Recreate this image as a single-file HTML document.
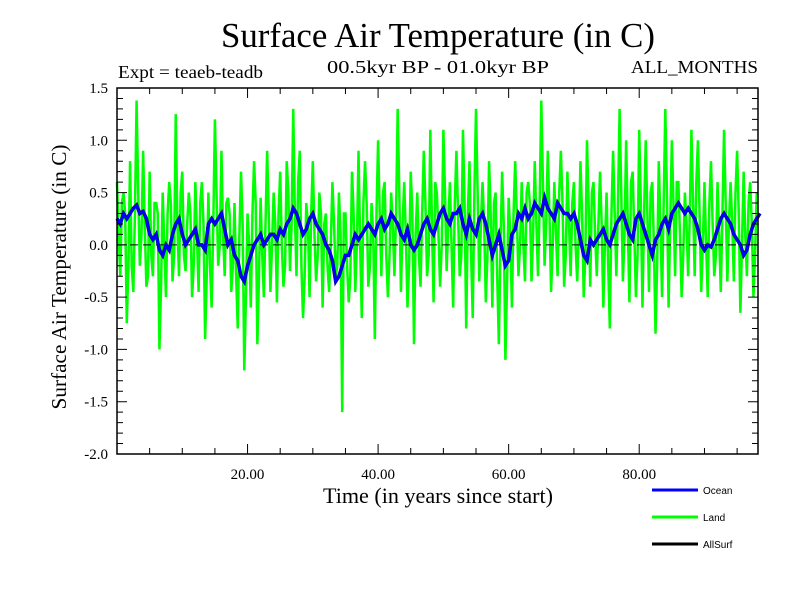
<!DOCTYPE html>
<html><head><meta charset="utf-8"><style>
body{margin:0;background:#fff}
svg text{font-family:"Liberation Serif",serif}
</style></head><body>
<svg id="c" width="800" height="600" xmlns="http://www.w3.org/2000/svg">
<text x="221" y="47" font-size="35" textLength="434" lengthAdjust="spacingAndGlyphs">Surface Air Temperature (in C)</text>
<text x="118" y="78" font-size="18" textLength="145" lengthAdjust="spacingAndGlyphs">Expt = teaeb-teadb</text>
<text x="327" y="73" font-size="18" textLength="222" lengthAdjust="spacingAndGlyphs">00.5kyr BP - 01.0kyr BP</text>
<text x="631" y="73" font-size="18" textLength="127" lengthAdjust="spacingAndGlyphs">ALL_MONTHS</text>
<text transform="translate(66,277) rotate(-90)" font-size="21" text-anchor="middle" textLength="265" lengthAdjust="spacingAndGlyphs">Surface Air Temperature (in C)</text>
<text x="323" y="503" font-size="22" textLength="230" lengthAdjust="spacingAndGlyphs">Time (in years since start)</text>
<g id="plot"></g>
<g id="axes"></g>
<g>
<line x1="652" y1="490" x2="698" y2="490" stroke="#0000ff" stroke-width="3"/>
<text x="703" y="494" style="font-family:'Liberation Sans',sans-serif" font-size="10">Ocean</text>
<line x1="652" y1="517" x2="698" y2="517" stroke="#00ff00" stroke-width="3"/>
<text x="703" y="521" style="font-family:'Liberation Sans',sans-serif" font-size="10">Land</text>
<line x1="652" y1="544" x2="698" y2="544" stroke="#000" stroke-width="3"/>
<text x="703" y="548" style="font-family:'Liberation Sans',sans-serif" font-size="10">AllSurf</text>
</g>
</svg>
<script>
const xTickValues=[20,40,60,80];
const xTickLabels=["20.00","40.00","60.00","80.00"];
const yTickValues=[1.5,1.0,0.5,0.0,-0.5,-1.0,-1.5,-2.0];
const yTickLabels=["1.5","1.0","0.5","0.0","-0.5","-1.0","-1.5","-2.0"];
const landHigh=[0.6,0.5,0.8,1.38,0.9,0.7,0.4,0.5,0.6,1.25,0.7,0.5,0.6,0.6,0.5,1.2,0.9,0.45,0.4,0.7,0.3,0.8,0.45,0.9,0.5,0.7,0.8,1.3,0.9,0.4,0.8,0.5,0.3,0.6,0.5,0.3,0.7,0.9,0.8,0.4,1.0,0.6,0.5,1.3,0.6,0.7,0.5,0.9,1.1,0.5,1.1,0.6,0.9,1.1,0.8,1.3,0.6,0.8,0.5,0.7,0.45,0.8,0.6,0.6,0.8,1.38,0.9,0.6,0.9,0.7,0.6,0.8,1.0,0.6,0.7,0.5,0.9,1.3,1.0,0.7,1.1,1.0,0.6,0.8,1.3,1.0,0.6,0.5,1.1,1.0,0.6,0.8,0.6,1.1,0.6,0.9,0.7,0.6,0.5];
const landMidA=[0.1,0.3,-0.2,0.5,0.2,-0.1,0.3,0.0,0.4,0.2,-0.1,0.3,0.1,0.2,-0.2,0.5,0.1,0.3,-0.3,0.2,0.0,0.4,-0.1,0.3,0.2,0.0,0.5,0.3,-0.2,0.2,0.1,0.3,-0.2,0.2,0.1,-0.2,0.3,0.0,0.4,0.1,0.3,-0.1,0.2,0.5,0.1,0.3,-0.1,0.4,0.2,0.1,0.5,0.0,0.3,0.4,-0.1,0.5,0.2,0.3,-0.3,0.2,0.1,0.3,0.0,0.4,0.2,0.6,0.3,0.1,0.4,0.2,0.0,0.3,0.4,0.1,0.2,-0.2,0.3,0.5,0.2,0.1,0.4,0.3,0.0,0.2,0.5,0.4,0.1,0.2,0.4,0.3,0.0,0.2,0.1,0.4,0.2,0.3,0.1,0.2];
const landMidB=[0.4,-0.2,0.3,0.1,-0.3,0.4,-0.4,0.3,-0.1,0.5,0.2,-0.2,0.4,-0.3,0.2,0.0,0.4,-0.2,0.1,-0.5,0.3,-0.3,0.2,0.0,0.3,-0.2,0.2,0.6,-0.3,0.3,-0.1,0.2,0.0,-0.2,0.3,-0.3,0.0,0.4,-0.2,0.3,0.5,-0.1,0.3,0.2,-0.2,0.1,0.3,-0.1,0.6,0.0,0.2,0.4,-0.1,0.3,0.5,0.2,-0.1,0.4,0.0,-0.4,0.3,0.0,0.5,0.1,0.4,0.2,0.0,0.5,-0.1,0.4,0.1,-0.1,0.5,0.2,0.0,0.3,0.4,0.1,0.6,-0.1,0.3,0.5,-0.2,0.4,0.2,0.6,-0.1,0.3,0.6,0.0,0.4,-0.1,0.3,0.2,0.5,0.0,0.4,-0.1];
const landLow=[-0.3,-0.75,-0.45,-0.2,-0.4,-0.3,-1.0,-0.5,-0.35,-0.3,-0.25,-0.5,-0.45,-0.9,-0.6,-0.2,-0.3,-0.45,-0.8,-1.2,-0.6,-0.95,-0.5,-0.45,-0.55,-0.4,-0.25,-0.3,-0.7,-0.5,-0.35,-0.6,-0.45,-0.3,-1.6,-0.55,-0.45,-0.7,-0.4,-0.9,-0.3,-0.5,-0.3,-0.45,-0.6,-0.95,-0.4,-0.3,-0.55,-0.4,-0.25,-0.6,-0.3,-0.8,-0.7,-0.35,-0.55,-0.6,-0.95,-1.1,-0.6,-0.3,-0.35,-0.35,-0.3,-0.2,-0.45,-0.3,-0.4,-0.3,-0.35,-0.5,-0.4,-0.3,-0.6,-0.8,-0.3,-0.35,-0.55,-0.5,-0.6,-0.45,-0.85,-0.5,-0.6,-0.3,-0.5,-0.3,-0.3,-0.45,-0.5,-0.3,-0.45,-0.35,-0.35,-0.65,-0.3,-0.5];
const ocean=[0.25,0.2,0.3,0.25,0.3,0.35,0.38,0.3,0.32,0.25,0.1,0.05,0.1,-0.05,-0.1,0.0,-0.05,0.1,0.2,0.25,0.1,0.0,0.05,0.1,0.15,0.0,0.0,-0.05,0.2,0.25,0.2,0.25,0.3,0.15,0.0,0.05,-0.1,-0.15,-0.3,-0.35,-0.2,-0.1,0.0,0.05,0.1,0.0,0.05,0.1,0.1,0.05,0.15,0.1,0.2,0.25,0.35,0.3,0.2,0.1,0.15,0.25,0.3,0.2,0.15,0.1,0.0,-0.05,-0.15,-0.35,-0.3,-0.2,-0.1,-0.1,0.0,0.1,0.05,0.1,0.15,0.2,0.15,0.1,0.2,0.25,0.15,0.2,0.3,0.25,0.2,0.1,0.05,0.15,0.0,-0.05,0.0,0.1,0.2,0.25,0.15,0.1,0.2,0.3,0.35,0.25,0.2,0.3,0.3,0.35,0.2,0.1,0.25,0.15,0.1,0.25,0.3,0.2,0.05,-0.1,0.0,0.1,-0.05,-0.2,-0.15,0.1,0.15,0.3,0.25,0.35,0.25,0.3,0.4,0.35,0.3,0.45,0.35,0.3,0.25,0.4,0.35,0.3,0.3,0.25,0.3,0.2,0.05,-0.1,-0.15,0.05,0.0,0.05,0.1,0.15,0.05,0.0,0.1,0.2,0.25,0.3,0.2,0.1,0.05,0.25,0.3,0.2,0.1,0.0,-0.1,0.05,0.1,0.2,0.25,0.15,0.3,0.35,0.4,0.35,0.3,0.35,0.3,0.25,0.15,0.0,-0.05,0.0,-0.02,0.05,0.15,0.25,0.3,0.25,0.2,0.1,0.05,0.0,-0.1,-0.05,0.1,0.2,0.25,0.3];
const X0=117,X1=758,Y0=88,Y1=454,XMIN=0,XMAX=98.2,YMIN=-2,YMAX=1.5;
const xs=v=>X0+(v-XMIN)/(XMAX-XMIN)*(X1-X0);
const ys=v=>Y0+(YMAX-v)/(YMAX-YMIN)*(Y1-Y0);
const NS="http://www.w3.org/2000/svg";
function mk(t,a,p){const e=document.createElementNS(NS,t);for(const k in a)e.setAttribute(k,a[k]);p.appendChild(e);return e;}
const plot=document.getElementById('plot'),axes=document.getElementById('axes');
let lp=[];
for(let i=0;i<landHigh.length;i++){
  lp.push(xs(i)+','+ys(landHigh[i]));
  if(i<landMidA.length)lp.push(xs(i+0.25)+','+ys(landMidA[i]));
  if(i<landLow.length)lp.push(xs(i+0.5)+','+ys(landLow[i]));
  if(i<landMidB.length)lp.push(xs(i+0.75)+','+ys(landMidB[i]));
}
const land=mk('polyline',{points:lp.join(' '),fill:'none',stroke:'#00ff00','stroke-width':2.5},plot);


const zl=mk('line',{x1:X0,x2:X1,y1:ys(0),y2:ys(0),stroke:'#000','stroke-width':1,'stroke-dasharray':'8,5'},plot);


let op=ocean.map((v,i)=>xs(i*0.5)+','+ys(v)).join(' ');
const al=mk('polyline',{points:op,fill:'none',stroke:'#000','stroke-width':3.5},plot);


const oc=mk('polyline',{points:op,fill:'none',stroke:'#0000ff','stroke-width':3},plot);


const fr=mk('rect',{x:X0,y:Y0,width:X1-X0,height:Y1-Y0,fill:'none',stroke:'#000','stroke-width':1.5},axes);


let tk=[];
for(let v=5;v<XMAX;v+=5){const L=(v%20===0)?10:6;const x=xs(v);tk.push(`M${x},${Y1}v${-L}M${x},${Y0}v${L}`);}
for(let k=-20;k<=15;k++){const v=k/10;const L=(k%5===0)?10:6;const y=ys(v);tk.push(`M${X0},${y}h${L}M${X1},${y}h${-L}`);}
const ticks=mk('path',{d:tk.join(''),stroke:'#000','stroke-width':1,fill:'none'},axes);


xTickValues.forEach((v,i)=>{const t=mk('text',{x:xs(v),y:479,'font-size':15,'text-anchor':'middle'},axes);t.textContent=xTickLabels[i];

});
yTickValues.forEach((v,i)=>{const t=mk('text',{x:108,y:ys(v)+5,'font-size':15,'text-anchor':'end'},axes);t.textContent=yTickLabels[i];

});
</script>
</body></html>
